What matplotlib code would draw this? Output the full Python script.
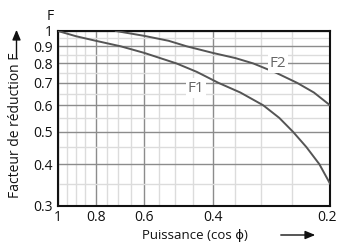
import matplotlib
matplotlib.use("Agg")
import matplotlib.pyplot as plt
import matplotlib.transforms as mtransforms
from matplotlib.ticker import FixedLocator, NullFormatter

plt.rcParams['font.family'] = ['Open Sans', 'DejaVu Sans']

# Data
f1_cos = [1.0, 0.9, 0.8, 0.69, 0.6, 0.496, 0.44, 0.387, 0.34, 0.297, 0.27, 0.249, 0.23, 0.213, 0.2]
f1_val = [1.0, 0.965, 0.935, 0.9, 0.86, 0.8, 0.755, 0.7, 0.655, 0.6, 0.55, 0.5, 0.45, 0.4, 0.35]
f2_cos = [0.71, 0.6, 0.52, 0.467, 0.4, 0.35, 0.315, 0.275, 0.243, 0.22, 0.2]
f2_val = [1.0, 0.967, 0.935, 0.9, 0.86, 0.83, 0.8, 0.75, 0.7, 0.655, 0.6]

x_major = [1, 0.8, 0.6, 0.4, 0.2]
x_labels = ["1", "0.8", "0.6", "0.4", "0.2"]
x_minor = [0.95, 0.9, 0.85, 0.75, 0.7, 0.65, 0.55, 0.5, 0.45, 0.35, 0.3, 0.25]
y_major = [1, 0.9, 0.8, 0.7, 0.6, 0.5, 0.4, 0.3]
y_labels = ["1", "0.9", "0.8", "0.7", "0.6", "0.5", "0.4", "0.3"]
y_minor = [0.95, 0.85, 0.75, 0.65, 0.55, 0.45, 0.35]

fig = plt.figure(figsize=(3.38, 2.44), dpi=100)
ax = fig.add_axes([58/338, 1-206/244, (330-58)/338, (206-31)/244])
ax.set_xscale('log')
ax.set_yscale('log')
ax.set_xlim(1, 0.2)
ax.set_ylim(0.3, 1)

ax.xaxis.set_major_locator(FixedLocator(x_major))
ax.set_xticklabels(x_labels)
ax.xaxis.set_minor_locator(FixedLocator(x_minor))
ax.xaxis.set_minor_formatter(NullFormatter())
ax.yaxis.set_major_locator(FixedLocator(y_major))
ax.set_yticklabels(y_labels)
ax.yaxis.set_minor_locator(FixedLocator(y_minor))
ax.yaxis.set_minor_formatter(NullFormatter())

ax.grid(True, which='minor', color='#dcdcdc', lw=1.0, zorder=0)
ax.grid(True, which='major', color='#8c8c8c', lw=1.0, zorder=0)
ax.tick_params(which='both', length=0, labelsize=10, pad=4, colors='#111111')
ax.tick_params(axis='x', pad=3)
for s in ax.spines.values():
    s.set_linewidth(1.5)
    s.set_color('#111111')

# nudge the last x tick label so it stays inside the canvas
last = ax.get_xticklabels()[-1]
last.set_transform(last.get_transform() +
                   mtransforms.ScaledTranslation(-3/100, 0, fig.dpi_scale_trans))

ax.plot(f1_cos, f1_val, color='#555555', lw=1.4, zorder=3, clip_on=True)
ax.plot(f2_cos, f2_val, color='#555555', lw=1.4, zorder=3, clip_on=True)

ax.text(0.442, 0.675, "F1", transform=ax.transData, fontsize=11, color='#666666',
        ha='center', va='center', zorder=4,
        bbox=dict(facecolor='white', edgecolor='none', pad=1.5))
ax.text(0.272, 0.80, "F2", transform=ax.transData, fontsize=11, color='#666666',
        ha='center', va='center', zorder=4,
        bbox=dict(facecolor='white', edgecolor='none', pad=1.5))

# Axis labels and arrows
fig.text(50/338, 1-17/244, "F", fontsize=10, ha='center', va='center', color='#111111')
fig.text(15.5/338, 1-125/244, "Facteur de réduction F", rotation=90, fontsize=10,
         ha='center', va='center', color='#111111')
fig.text(195/338, 1-236/244, "Puissance (cos ϕ)", fontsize=9.5,
         ha='center', va='center', color='#111111')
fig.patches.append(matplotlib.patches.FancyArrowPatch(
    (278/338, 1-235/244), (318/338, 1-235/244), transform=fig.transFigure,
    arrowstyle='-|>,head_length=6,head_width=2.5', color='#111111', lw=1.0))
fig.patches.append(matplotlib.patches.FancyArrowPatch(
    (16.5/338, 1-61/244), (16.5/338, 1-27/244), transform=fig.transFigure,
    arrowstyle='-|>,head_length=6,head_width=2.5', color='#111111', lw=1.0))

fig.savefig("out.png", dpi=100)
